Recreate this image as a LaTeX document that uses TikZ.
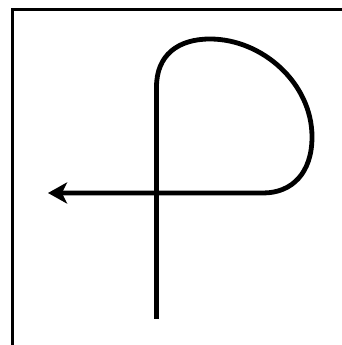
\documentclass[tikz,border=0pt]{standalone}
\usetikzlibrary{arrows.meta}
\begin{document}
\begin{tikzpicture}[x=1pt,y=1pt,
  framestyle/.style={line width=3pt},
  loopstyle/.style={line width=4.8pt,line cap=butt,-{Stealth[length=19pt,width=21pt,inset=5pt]}}]
\useasboundingbox (0,0) rectangle (342,345);
\fill[white] (0,0) rectangle (342,345);
\draw[framestyle] (12.5,0) -- (12.5,335) -- (342,335);
\coordinate (start) at (156.5,26);
\coordinate (upper) at (156.5,258);
\coordinate (top) at (210,306);
\coordinate (right) at (312,208);
\coordinate (low) at (263,152);
\coordinate (tip) at (48,152);
\draw[loopstyle] (start) -- (upper)
  .. controls (156.5,290) and (178,306) .. (top)
  .. controls (262,306) and (312,262) .. (right)
  .. controls (312,172) and (292,152) .. (low)
  -- (tip);
\end{tikzpicture}
\end{document}
